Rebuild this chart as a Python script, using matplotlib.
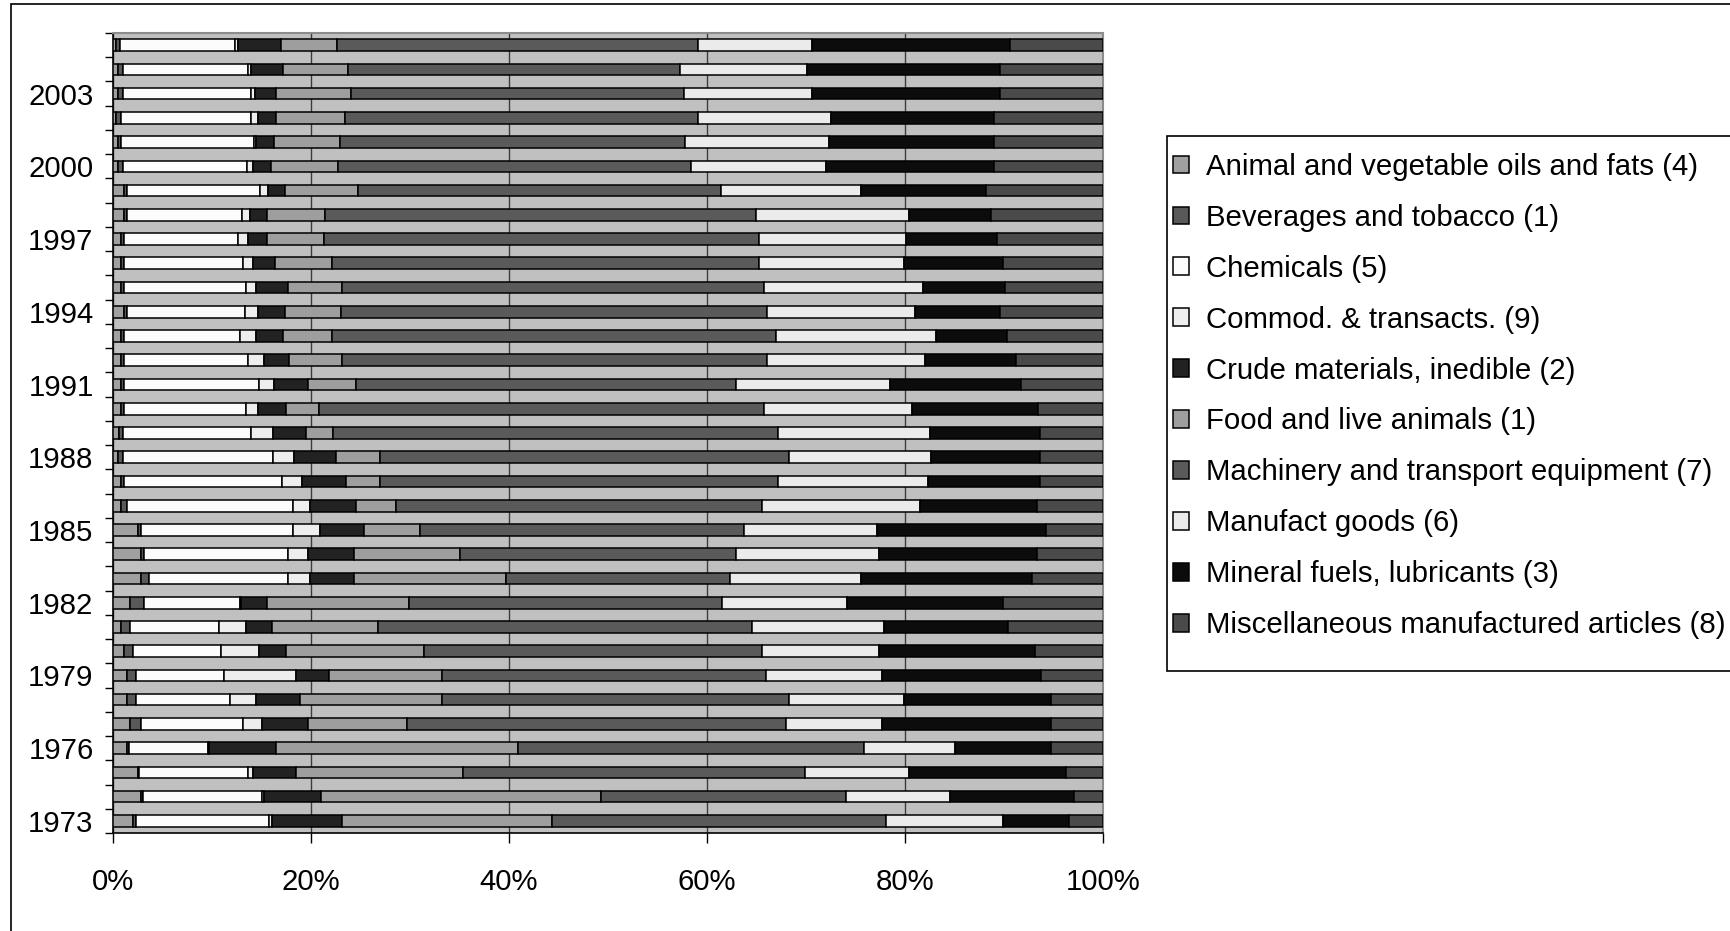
import numpy as np
import matplotlib
matplotlib.use('Agg')
import matplotlib.pyplot as plt
from matplotlib.patches import Rectangle

plt.rcParams['font.family'] = ['Liberation Sans', 'DejaVu Sans']
plt.rcParams['font.size'] = 21.2

years = list(range(1973, 2006))

categories = [
    'Animal and vegetable oils and fats (4)',
    'Beverages and tobacco (1)',
    'Chemicals (5)',
    'Commod. & transacts. (9)',
    'Crude materials, inedible (2)',
    'Food and live animals (1)',
    'Machinery and transport equipment (7)',
    'Manufact goods (6)',
    'Mineral fuels, lubricants (3)',
    'Miscellaneous manufactured articles (8)',
]
colors = ['#a0a0a0', '#595959', '#fcfcfc', '#eeeeee', '#222222',
          '#9e9e9e', '#5a5a5a', '#ebebeb', '#0c0c0c', '#4a4a4a']

# shares of imports by SITC group, 1973 .. 2005 (percent)
animal = [2.0, 2.8, 2.5, 1.4, 1.7, 1.4, 1.4, 1.1, 0.8, 1.7, 2.8, 2.8, 2.5, 0.8, 0.8,
          0.5, 0.6, 0.8, 0.8, 0.8, 0.8, 1.1, 0.8, 0.8, 0.8, 1.1, 1.1, 0.5, 0.5, 0.3,
          0.5, 0.5, 0.3]
bev = [0.3, 0.2, 0.1, 0.2, 1.1, 0.9, 0.9, 0.9, 0.9, 1.4, 0.8, 0.3, 0.3, 0.6, 0.3,
       0.5, 0.4, 0.3, 0.3, 0.3, 0.3, 0.3, 0.3, 0.3, 0.3, 0.3, 0.3, 0.5, 0.3, 0.5,
       0.5, 0.5, 0.4]
chem = [13.5, 12.0, 11.0, 8.0, 10.3, 9.5, 8.9, 8.9, 9.0, 9.7, 14.1, 14.6, 15.4, 16.8, 16.0,
        15.2, 13.0, 12.3, 13.6, 12.5, 11.7, 11.9, 12.3, 12.0, 11.5, 11.6, 13.4, 12.5, 13.5, 13.2,
        13.0, 12.6, 11.6]
commod = [0.3, 0.3, 0.5, 0.1, 1.9, 2.6, 7.3, 3.8, 2.7, 0.1, 2.2, 2.0, 2.7, 1.7, 2.0,
          2.1, 2.2, 1.2, 1.6, 1.7, 1.6, 1.3, 1.0, 1.0, 1.0, 0.8, 0.8, 0.7, 0.2, 0.7,
          0.4, 0.4, 0.3]
crude = [7.0, 5.7, 4.4, 6.8, 4.7, 4.5, 3.3, 2.8, 2.7, 2.7, 4.4, 4.6, 4.5, 4.6, 4.4,
         4.2, 3.3, 2.9, 3.4, 2.5, 2.8, 2.8, 3.3, 2.3, 2.0, 1.7, 1.8, 1.8, 1.8, 1.8,
         2.1, 3.2, 4.4]
food = [21.2, 28.3, 16.9, 24.4, 10.0, 14.3, 11.4, 13.9, 10.7, 14.3, 15.4, 10.8, 5.6, 4.1, 3.5,
        4.5, 2.7, 3.3, 4.8, 5.3, 4.9, 5.6, 5.4, 5.7, 5.7, 5.9, 7.3, 6.7, 6.7, 7.0,
        7.6, 6.6, 5.6]
mach = [33.8, 24.7, 34.5, 35.0, 38.3, 35.1, 32.8, 34.2, 37.7, 31.6, 22.6, 27.8, 32.7, 37.0, 40.2,
        41.4, 45.0, 45.0, 38.4, 43.0, 44.9, 43.0, 42.7, 43.2, 44.0, 43.5, 36.7, 35.7, 34.8, 35.7,
        33.6, 33.5, 36.5]
manuf = [11.8, 10.5, 10.5, 9.1, 9.7, 11.6, 11.7, 11.8, 13.4, 12.6, 13.3, 14.5, 13.5, 15.9, 15.1,
         14.3, 15.4, 14.9, 15.6, 15.9, 16.1, 14.9, 16.0, 14.6, 14.8, 15.4, 14.1, 13.7, 14.6, 13.4,
         13.0, 12.9, 11.5]
mineral = [6.7, 12.6, 15.9, 9.7, 17.0, 14.8, 16.0, 15.7, 12.5, 15.8, 17.2, 15.9, 17.0, 11.8, 11.3,
           11.0, 11.1, 12.7, 13.2, 9.2, 7.2, 8.6, 8.3, 10.0, 9.2, 8.3, 12.6, 17.0, 16.7, 16.5,
           19.0, 19.5, 20.0]
misc = [3.4, 2.9, 3.7, 5.3, 5.3, 5.3, 6.3, 6.9, 9.6, 10.1, 7.2, 6.7, 5.8, 6.7, 6.4,
        6.4, 6.4, 6.6, 8.3, 8.8, 9.7, 10.4, 9.9, 10.1, 10.7, 11.3, 11.8, 11.0, 11.0, 11.0,
        10.4, 10.4, 9.4]

shares = np.array([animal, bev, chem, commod, crude, food, mach, manuf, mineral, misc])
shares = shares / shares.sum(axis=0) * 100   # 100% stacked

W, H = 1730, 931
fig = plt.figure(figsize=(W / 100, H / 100), dpi=100)
ax = fig.add_axes([113 / W, 98 / H, 990 / W, 800 / H])
ax.set_facecolor('#c0c0c0')

y = np.arange(len(years))
left = np.zeros(len(years))
for vals, name, col in zip(shares, categories, colors):
    ax.barh(y, vals, left=left, height=0.48, color=col, edgecolor='black',
            linewidth=1.1, label=name, zorder=3)
    left += vals

ax.set_xlim(0, 100)
ax.set_ylim(-0.5, len(years) - 0.5)
ax.set_xticks(range(0, 101, 20))
ax.set_xticklabels([f'{v}%' for v in range(0, 101, 20)])
ax.tick_params(axis='x', direction='out', length=7, width=1, pad=18)
ax.xaxis.grid(True, color='#3c3c3c', linewidth=1, zorder=1)

# tick marks between categories, labels every third year
ax.set_yticks(np.arange(-0.5, len(years), 1))
ax.set_yticklabels([])
ax.tick_params(axis='y', which='major', direction='out', length=6, width=1)
lab_idx = [i for i, yr in enumerate(years) if (yr - 1973) % 3 == 0]
ax.set_yticks(lab_idx, minor=True)
ax.set_yticklabels([str(years[i]) for i in lab_idx], minor=True)
ax.tick_params(axis='y', which='minor', length=0, pad=14)

for s in ['left', 'bottom']:
    ax.spines[s].set_color('black')
    ax.spines[s].set_linewidth(1.2)
for s in ['top', 'right']:
    ax.spines[s].set_color('#8c8c8c')
    ax.spines[s].set_linewidth(1.5)

# legend box runs off the right edge, so its frame is drawn separately
fig.patches.append(Rectangle((1167 / W, 1 - 671 / H), 0.5, (671 - 136) / H,
                             transform=fig.transFigure, facecolor='white',
                             edgecolor='black', linewidth=1.2, zorder=0))
fig.legend(loc='center left', bbox_to_anchor=(1173 / W, 1 - 396 / H),
           bbox_transform=fig.transFigure, frameon=False, borderaxespad=0,
           borderpad=0, handlelength=0.53, handleheight=0.53, handletextpad=0.58,
           labelspacing=0.78)

# chart area border
fig.patches.append(Rectangle((11 / W, -0.01), 1.0, 1.01 - 4 / H, transform=fig.transFigure,
                             fill=False, edgecolor='black', linewidth=1.2))

fig.savefig('out.png', dpi=100, facecolor='white')
